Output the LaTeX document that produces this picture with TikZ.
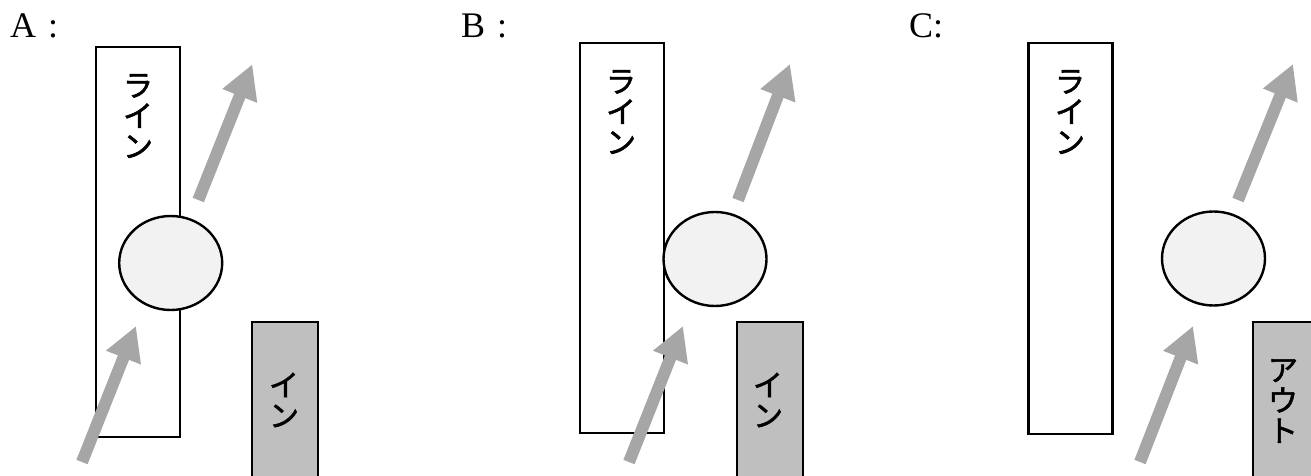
\documentclass[tikz,border=0pt]{standalone}
\usepackage{fontspec}
\setmainfont{Liberation Serif}
\newfontfamily\jp[FakeBold=1.8]{Noto Sans CJK JP}
\usetikzlibrary{arrows.meta,shapes.geometric}
\definecolor{arrowgray}{HTML}{A6A6A6}
\definecolor{boxgray}{HTML}{BFBFBF}
\definecolor{ballfill}{HTML}{F2F2F2}
\tikzset{
  panellabel/.style={anchor=base west, inner sep=0pt, font=\fontsize{36}{40}\selectfont},
  linebox/.style={draw, line width=2.4pt, fill=white, inner sep=0pt, minimum width=84pt},
  gatebox/.style={draw, line width=2.4pt, fill=boxgray},
  ball/.style={draw, ellipse, line width=2.4pt, fill=ballfill, inner sep=0pt, minimum width=103pt, minimum height=94pt},
  vtext/.style={inner sep=0pt, align=center, font=\jp\fontsize{30}{30.5}\selectfont},
  motion/.style={draw=arrowgray, line width=12pt, -{Triangle[length=34pt,width=35pt]}}
}
\begin{document}
\begin{tikzpicture}[x=1pt,y=-1pt]
\useasboundingbox (0,0) rectangle (1311,476);
\clip (0,0) rectangle (1311,476);

% panel labels
\node[panellabel] (labA) at (10,38) {A \kern3pt:};
\node[panellabel] (labB) at (461,38) {B \kern3pt:};
\node[panellabel] (labC) at (909,38) {C:};

% tall line boxes
\node[linebox, minimum height=390pt] (lineA) at (137.75,242) {};
\node[linebox, minimum height=390pt] (lineB) at (622,238) {};
\node[linebox, minimum height=391pt] (lineC) at (1070.5,238.5) {};
\node[vtext] (tA) at (138,116) {ラ\\イ\\ン};
\node[vtext] (tB) at (621,112) {ラ\\イ\\ン};
\node[vtext] (tC) at (1070,112) {ラ\\イ\\ン};

% gray boxes running off the bottom edge
\draw[gatebox] (252,322) rectangle (318,500);
\draw[gatebox] (737,322) rectangle (803,500);
\draw[gatebox] (1253,322) rectangle (1319,500);
\node[vtext] (gA) at (284,400) {イ\\ン};
\node[vtext] (gB) at (768,400) {イ\\ン};
\node[vtext] (gC) at (1283,401) {ア\\ウ\\ト};

% balls
\node[ball] (ballA) at (170.7,263) {};
\node[ball] (ballB) at (715,259) {};
\node[ball] (ballC) at (1213.5,258.5) {};

% incoming and outgoing paths
\coordinate (inA0) at (82,462);   \coordinate (inA1) at (136,326);
\coordinate (outA0) at (198.3,200); \coordinate (outA1) at (252.3,64.3);
\coordinate (inB0) at (629,462);  \coordinate (inB1) at (683,326);
\coordinate (outB0) at (738,200); \coordinate (outB1) at (790,64);
\coordinate (inC0) at (1140,462); \coordinate (inC1) at (1193,326);
\coordinate (outC0) at (1238,200);\coordinate (outC1) at (1293,64);
\draw[motion] (inA0) -- (inA1);
\draw[motion] (outA0) -- (outA1);
\draw[motion] (inB0) -- (inB1);
\draw[motion] (outB0) -- (outB1);
\draw[motion] (inC0) -- (inC1);
\draw[motion] (outC0) -- (outC1);
\end{tikzpicture}
\end{document}
